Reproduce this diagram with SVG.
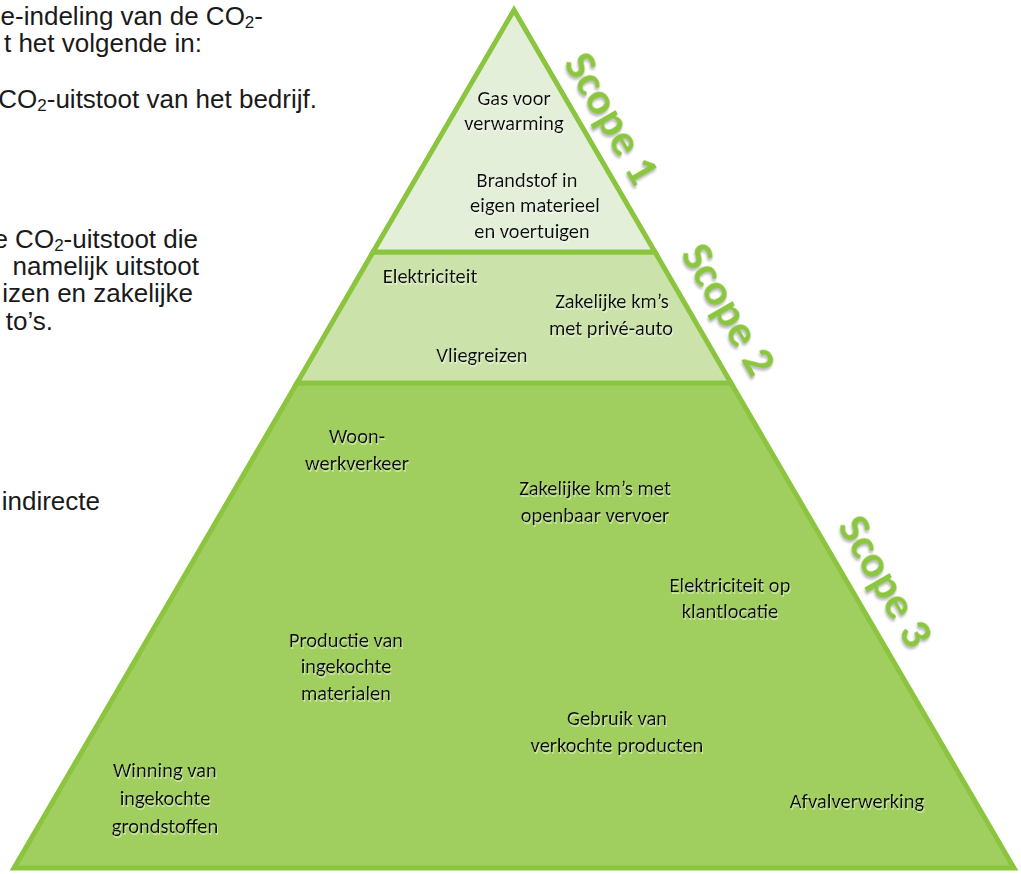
<svg xmlns="http://www.w3.org/2000/svg" width="1021" height="874" viewBox="0 0 1021 874">
  <style>
    .body { font-family: "Liberation Sans", Arial, sans-serif; font-size: 26px; fill: #1a1a1a; text-anchor: end; }
    .sub { font-size: 17px; }
    .lbl { font-family: Carlito, Lato, "Open Sans", sans-serif; font-size: 20.5px; fill: #111; text-anchor: middle; filter: url(#ghost); }
    .scope { font-family: Carlito, Lato, "Open Sans", sans-serif; font-size: 45px; font-weight: 900; fill: #8CC63F; text-anchor: middle; filter: url(#shadow); }
    .tier { stroke: #8BC53F; stroke-width: 5; stroke-linejoin: miter; }
  </style>
  <defs>
    <filter id="shadow" x="-20%" y="-20%" width="140%" height="140%">
      <feDropShadow dx="2" dy="2" stdDeviation="1.2" flood-color="#888" flood-opacity="0.55"/>
    </filter>
    <filter id="ghost" x="-10%" y="-20%" width="120%" height="160%">
      <feDropShadow dx="1" dy="2" stdDeviation="0.6" flood-color="#ffffff" flood-opacity="0.45"/>
    </filter>
  </defs>
  <rect width="1021" height="874" fill="#ffffff"/>

  <g id="intro-text">
    <text class="body" x="263" y="25">e-indeling van de CO<tspan class="sub" dy="3">2</tspan><tspan dy="-3">-</tspan></text>
    <text class="body" x="202" y="52">t het volgende in:</text>
    <text class="body" x="317" y="108">CO<tspan class="sub" dy="3">2</tspan><tspan dy="-3">-uitstoot van het bedrijf.</tspan></text>
    <text class="body" x="198" y="248">e CO<tspan class="sub" dy="3">2</tspan><tspan dy="-3">-uitstoot die</tspan></text>
    <text class="body" x="199" y="275">namelijk uitstoot</text>
    <text class="body" x="193" y="302">izen en zakelijke</text>
    <text class="body" x="53" y="330">to’s.</text>
    <text class="body" x="100" y="510">indirecte</text>
  </g>

  <g id="scope3-tier">
    <polygon class="tier" points="297,383 731,383 1014,868 14,868" fill="#A0CF5F"/>
    <text class="lbl" x="357" y="443">Woon-</text>
    <text class="lbl" x="357" y="470">werkverkeer</text>
    <text class="lbl" x="595" y="495">Zakelijke km’s met</text>
    <text class="lbl" x="595" y="522">openbaar vervoer</text>
    <text class="lbl" x="730" y="592">Elektriciteit op</text>
    <text class="lbl" x="730" y="618">klantlocatie</text>
    <text class="lbl" x="346" y="647">Productie van</text>
    <text class="lbl" x="346" y="673">ingekochte</text>
    <text class="lbl" x="346" y="700">materialen</text>
    <text class="lbl" x="617" y="725">Gebruik van</text>
    <text class="lbl" x="617" y="752">verkochte producten</text>
    <text class="lbl" x="165" y="777">Winning van</text>
    <text class="lbl" x="165" y="805">ingekochte</text>
    <text class="lbl" x="165" y="833">grondstoffen</text>
    <text class="lbl" x="857" y="808">Afvalverwerking</text>
  </g>

  <g id="scope2-tier">
    <polygon class="tier" points="373,252 655,252 731,383 297,383" fill="#CBE3AA"/>
    <text class="lbl" x="430" y="283">Elektriciteit</text>
    <text class="lbl" x="612" y="308">Zakelijke km’s</text>
    <text class="lbl" x="611" y="335">met privé-auto</text>
    <text class="lbl" x="482" y="362">Vliegreizen</text>
  </g>

  <g id="scope1-tier">
    <polygon class="tier" points="514,10 655,252 373,252" fill="#E3EFD8"/>
    <text class="lbl" x="514" y="105">Gas voor</text>
    <text class="lbl" x="514" y="130">verwarming</text>
    <text class="lbl" x="527" y="187">Brandstof in</text>
    <text class="lbl" x="535" y="212">eigen materieel</text>
    <text class="lbl" x="532" y="238">en voertuigen</text>
  </g>

  <g id="scope-labels">
    <g id="scope1-label" transform="translate(612,118) rotate(60)"><text class="scope" x="0" y="15">Scope 1</text></g>
    <g id="scope2-label" transform="translate(729,309) rotate(60)"><text class="scope" x="0" y="15">Scope 2</text></g>
    <g id="scope3-label" transform="translate(886,581) rotate(60)"><text class="scope" x="0" y="15">Scope 3</text></g>
  </g>
</svg>
